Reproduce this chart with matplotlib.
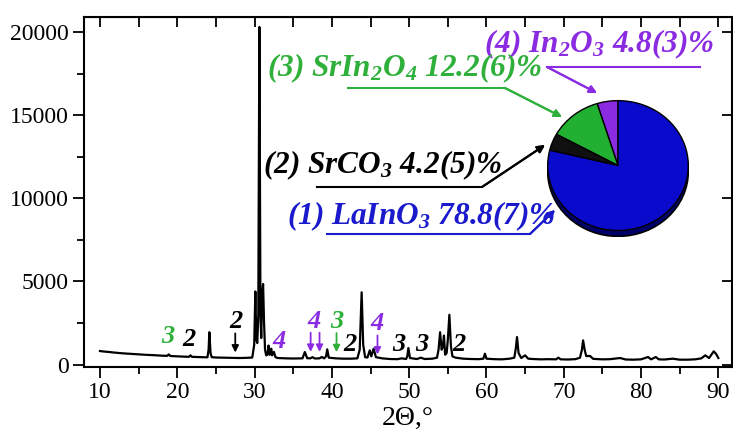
import matplotlib
matplotlib.use("Agg")
import matplotlib.pyplot as plt
from matplotlib.lines import Line2D
from matplotlib.patches import Ellipse
from matplotlib.ticker import MultipleLocator

# XRD pattern (2theta, counts)
two_theta = [10.0, 10.5, 11.0, 12.0, 13.0, 14.0, 15.0, 16.0, 17.0, 18.0,
             18.7, 18.9, 19.1, 20.0, 21.0, 21.5, 21.7, 21.9, 23.0, 23.9,
             24.05, 24.15, 24.3, 24.45, 25.0, 26.0, 27.0, 28.0, 29.0, 29.7,
             29.95, 30.1, 30.22, 30.35, 30.48, 30.62, 30.76, 30.86, 30.98, 31.1,
             31.22, 31.35, 31.5, 31.65, 31.8, 31.92, 32.05, 32.15, 32.27, 32.5,
             32.7, 33.0, 34.0, 35.0, 36.2, 36.5, 36.8, 37.2, 37.5, 37.8,
             38.4, 38.7, 39.0, 39.25, 39.4, 39.6, 40.5, 41.5, 42.5, 43.3,
             43.6, 43.85, 44.05, 44.3, 44.6, 44.9, 45.1, 45.4, 45.7, 46.5,
             47.5, 48.5, 49.0, 49.6, 49.75, 49.9, 50.1, 51.0, 51.5, 52.0,
             53.0, 53.6, 53.8, 54.0, 54.2, 54.35, 54.5, 54.65, 54.85, 55.0,
             55.2, 55.4, 55.6, 56.0, 57.0, 58.0, 59.0, 59.6, 59.8, 60.0,
             61.0, 62.0, 63.0, 63.6, 63.8, 63.95, 64.15, 64.5, 65.0, 65.4,
             66.0, 67.0, 68.0, 69.0, 69.3, 69.6, 70.5, 71.5, 72.1, 72.35,
             72.5, 72.7, 72.9, 73.4, 73.8, 75.0, 76.0, 77.3, 78.0, 79.0,
             80.0, 80.9, 81.3, 81.9, 82.3, 83.0, 84.1, 85.0, 86.0, 87.0,
             87.8, 88.3, 88.8, 89.4, 89.7, 90.0]
counts = [820, 790, 770, 720, 680, 650, 620, 590, 570, 540,
          530, 620, 520, 500, 480, 470, 560, 470, 450, 440,
          900, 1950, 700, 450, 430, 420, 410, 400, 410, 430,
          1200, 4400, 1500, 1300, 3000, 20300, 3000, 1600, 4300, 4850,
          2600, 900, 560, 600, 1150, 600, 620, 960, 560, 770,
          450, 400, 380, 370, 380, 760, 390, 380, 450, 370,
          380, 460, 380, 500, 920, 420, 380, 360, 360, 380,
          900, 4350, 1200, 450, 430, 860, 500, 960, 450, 380,
          340, 330, 380, 340, 500, 1000, 400, 340, 420, 340,
          360, 420, 900, 1950, 900, 1100, 1750, 600, 700, 1500,
          3000, 1100, 500, 420, 360, 340, 330, 360, 660, 360,
          330, 320, 360, 420, 1000, 1660, 700, 400, 560, 360,
          340, 320, 330, 320, 420, 320, 310, 330, 420, 900,
          1460, 900, 520, 520, 350, 320, 330, 400, 310, 300,
          320, 460, 320, 460, 320, 310, 360, 300, 300, 320,
          380, 560, 400, 800, 650, 400]

x_ticks = [10, 20, 30, 40, 50, 60, 70, 80, 90]
y_ticks = [0, 5000, 10000, 15000, 20000]

# phase fractions, pie order from the top going counter-clockwise
phase_names = ["(4) In$_2$O$_3$ 4.8(3)%", "(3) SrIn$_2$O$_4$ 12.2(6)%",
               "(2) SrCO$_3$ 4.2(5)%", "(1) LaInO$_3$ 78.8(7)%"]
fractions = [4.8, 12.2, 4.2, 78.8]
phase_colors = ["#8a2be2", "#22b032", "#101010", "#0a0acc"]

# reflex markers: (2theta, height, label, colour, arrow tips)
GREEN, PURPLE, BLACK = "#2fb03a", "#8a2be2", "black"
markers = [
    (18.8, 1680, "3", GREEN, []),
    (21.45, 1500, "2", BLACK, []),
    (27.65, 2580, "2", BLACK, [27.5]),
    (33.1, 1380, "4", PURPLE, []),
    (37.75, 2620, "4", PURPLE, [37.25, 38.4]),
    (40.7, 2600, "3", GREEN, [40.6]),
    (42.3, 1230, "2", BLACK, []),
    (45.8, 2460, "4", PURPLE, [45.9]),
    (48.7, 1200, "3", BLACK, []),
    (51.6, 1200, "3", BLACK, []),
    (56.5, 1200, "2", BLACK, []),
]

plt.rcParams['font.family'] = 'Liberation Serif'
plt.rcParams['mathtext.fontset'] = 'custom'
plt.rcParams['mathtext.rm'] = 'Liberation Serif:italic:bold'
plt.rcParams['mathtext.it'] = 'Liberation Serif:italic:bold'
plt.rcParams['mathtext.bf'] = 'Liberation Serif:italic:bold'

W, H = 733, 433


def fp(x, y):
    # pixel position in the picture -> figure fraction
    return (x / W, 1 - y / H)


fig = plt.figure(figsize=(W / 100, H / 100), dpi=100)
ax = fig.add_axes([84 / W, 1 - 367 / H, (731.5 - 84) / W, (367 - 17) / H])
ax.plot(two_theta, counts, color='black', lw=1.6)
ax.set_xlim(7.93, 91.7)
ax.set_ylim(-140, 20900)
ax.set_xticks(x_ticks)
ax.set_yticks(y_ticks)
ax.xaxis.set_minor_locator(MultipleLocator(5))
ax.yaxis.set_minor_locator(MultipleLocator(2500))
ax.tick_params(which='both', direction='out', labelsize=17, width=1.3, pad=3)
ax.tick_params(which='major', length=8)
ax.tick_params(which='minor', length=5)
for s in ax.spines.values():
    s.set_linewidth(1.5)

top = ax.secondary_xaxis('top')
top.set_xticks(x_ticks)
top.xaxis.set_minor_locator(MultipleLocator(5))
top.tick_params(which='both', direction='in', length=7, width=1.3, labeltop=False)
right = ax.secondary_yaxis('right')
right.set_yticks(y_ticks)
right.tick_params(direction='in', length=7, width=1.3, labelright=False)

ax.set_xlabel("2Θ,°", fontsize=20, labelpad=2)

for x, y, lab, col, tips in markers:
    ax.text(x, y, lab, color=col, fontsize=19, style='italic', weight='bold',
            ha='center', va='center')
    for t in tips:
        ax.annotate('', xy=(t, y - 1850), xytext=(t, y - 700),
                    arrowprops=dict(arrowstyle='-|>', color=col, lw=1.3,
                                    mutation_scale=10, shrinkA=0, shrinkB=0))

# pie inset
axp = fig.add_axes([547 / W, 1 - 237 / H, 142 / W, 137 / H])
axp.add_patch(Ellipse((0, -0.09), 2, 2, facecolor='#00006a', edgecolor='black', lw=1.2, zorder=0))
axp.pie(fractions, colors=phase_colors, startangle=90, counterclock=True,
        wedgeprops=dict(edgecolor='black', linewidth=1.0))
axp.set_aspect('auto')
axp.set_xlim(-1.01, 1.01)
axp.set_ylim(-1.1, 1.01)
axp.axis('off')

# phase labels with leader lines: text start/baseline, underline, arrow tip
leaders = [
    ((484, 52), [(547, 67), (700, 67)], (547, 67), (597, 93)),
    ((267, 76), [(348, 88), (505, 88)], (505, 88), (562, 117)),
    ((263, 173), [(317, 187), (482, 187)], (482, 187), (545, 145)),
    ((287, 224), [(327, 234), (530, 234)], (530, 234), (555, 210)),
]
label_colors = [PURPLE, GREEN, BLACK, "#1a1acc"]
for name, col, (txt, line, start, tip) in zip(phase_names, label_colors, leaders):
    fig.text(*fp(*txt), name, color=col, fontsize=22.5, style='italic', weight='bold',
             ha='left', va='baseline')
    xs = [fp(*p)[0] for p in line]
    ys = [fp(*p)[1] for p in line]
    fig.add_artist(Line2D(xs, ys, color=col, lw=1.5, transform=fig.transFigure))
    fig.add_artist(plt.annotate('', xy=fp(*tip), xytext=fp(*start),
                                xycoords='figure fraction', textcoords='figure fraction',
                                arrowprops=dict(arrowstyle='-|>', color=col, lw=1.5,
                                                mutation_scale=11, shrinkA=0, shrinkB=0)))

fig.savefig("out.png", dpi=100)
